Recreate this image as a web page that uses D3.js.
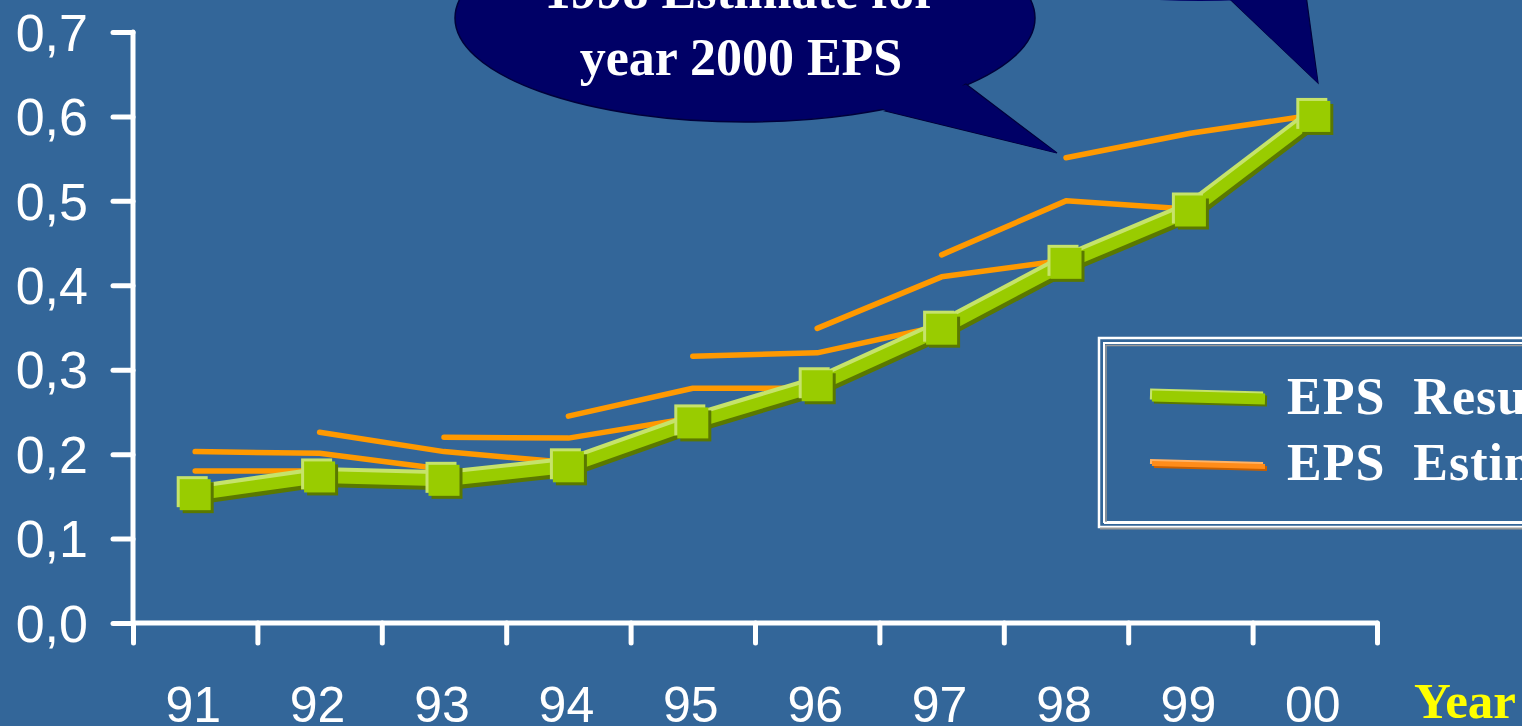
<!DOCTYPE html>
<html>
<head>
<meta charset="utf-8">
<script src="https://cdn.jsdelivr.net/npm/d3@7"></script>
<style>
  html, body { margin: 0; padding: 0; background: #336699; overflow: hidden; }
  svg { display: block; }
</style>
</head>
<body>
<svg id="chart" width="1522" height="726"></svg>
<script>
// Fiscal years on the category axis
const years = ["91", "92", "93", "94", "95", "96", "97", "98", "99", "00"];

// Reported earnings per share
const results = [0.152, 0.173, 0.169, 0.185, 0.237, 0.281, 0.348, 0.426, 0.488, 0.60];

// Successive analyst estimates: first year covered, then the estimated EPS path
const estimateStarts = ["91", "91", "92", "93", "94", "95", "96", "97", "98"];
const estimateValues = [
  [0.180, 0.180],
  [0.203, 0.201, 0.182],
  [0.226, 0.203, 0.190],
  [0.220, 0.219, 0.243],
  [0.245, 0.278, 0.278],
  [0.316, 0.320, 0.352],
  [0.349, 0.410, 0.430],
  [0.436, 0.500, 0.490],
  [0.551, 0.580, 0.602]
];

// Value axis ticks and their labels (decimal comma)
const yTicks = [0, 0.1, 0.2, 0.3, 0.4, 0.5, 0.6, 0.7];
const yTickLabels = ["0,0", "0,1", "0,2", "0,3", "0,4", "0,5", "0,6", "0,7"];

// Legend entries and annotation text
const legendLabels = ["EPS  Results", "EPS  Estimates"];
const calloutLines = ["1998 Estimate for", "year 2000 EPS"];
const xAxisTitle = "Year";

const svg = d3.select("#chart");
const W = 1522, H = 726;

svg.append("rect").attr("width", W).attr("height", H).attr("fill", "#336699");

const plot = { left: 133, right: 1377, top: 32, bottom: 623 };

const x = d3.scaleBand().domain(years).range([plot.left, plot.right]).paddingInner(0).paddingOuter(0);
const y = d3.scaleLinear().domain([0, 0.7]).range([plot.bottom, plot.top]);
const cx = d => x(d) + x.bandwidth() / 2;

const serif = "'Liberation Serif', 'Times New Roman', serif";
const sans = "'Liberation Sans', Arial, sans-serif";

// ---- Speech bubbles ----
const bubbles = svg.append("g");
// second bubble, mostly above the top edge
bubbles.append("ellipse")
  .attr("cx", 1200).attr("cy", -100).attr("rx", 290).attr("ry", 101)
  .attr("fill", "#000066");
bubbles.append("polygon")
  .attr("points", "1215,-20 1232,1 1318,83 1304,-20")
  .attr("fill", "#000066")
  .attr("stroke", "#00003a").attr("stroke-width", 1.2).attr("stroke-linejoin", "miter");
bubbles.append("polygon")
  .attr("points", "1216,-5 1232,1 1318,83 1304,-5")
  .attr("fill", "#000066");

// main bubble with its tail
bubbles.append("ellipse")
  .attr("cx", 745).attr("cy", 18).attr("rx", 290).attr("ry", 104)
  .attr("fill", "#000066")
  .attr("stroke", "#00003a").attr("stroke-width", 1.5);
bubbles.append("polygon")
  .attr("points", "966,84 1057,153 885,111")
  .attr("fill", "#000066")
  .attr("stroke", "#00003a").attr("stroke-width", 1.2);
bubbles.append("polygon")
  .attr("points", "990,60 962,86 1057,153 885,110 860,98 840,70")
  .attr("fill", "#000066");

const callout = bubbles.append("text")
  .attr("font-family", serif).attr("font-weight", "bold")
  .attr("font-size", 52).attr("fill", "#ffffff").attr("text-anchor", "middle");
callout.append("tspan").attr("x", 741).attr("y", 8).text(calloutLines[0]);
callout.append("tspan").attr("x", 741).attr("y", 75).text(calloutLines[1]);

// ---- Axes ----
const axisColor = "#ffffff";

const yAxis = d3.axisLeft(y)
  .tickValues(yTicks)
  .tickFormat((d, i) => yTickLabels[i])
  .tickSize(20)
  .tickPadding(25);
const gy = svg.append("g").attr("transform", `translate(${plot.left},0)`).call(yAxis);
gy.select(".domain").remove();
gy.selectAll(".tick line")
  .attr("stroke", axisColor).attr("stroke-width", 5).attr("stroke-linecap", "round");
gy.selectAll(".tick text")
  .attr("fill", axisColor).attr("font-family", sans).attr("font-size", 52)
  .attr("dy", "0.35em");
svg.append("line")
  .attr("x1", plot.left).attr("x2", plot.left)
  .attr("y1", plot.top).attr("y2", plot.bottom)
  .attr("stroke", axisColor).attr("stroke-width", 5).attr("stroke-linecap", "round");

// category axis: ticks at band boundaries, labels at band centres
const xEdge = d3.scaleLinear().domain([0, years.length]).range([plot.left, plot.right]);
const xAxisTicks = d3.axisBottom(xEdge)
  .tickValues(d3.range(0, years.length + 1))
  .tickFormat("")
  .tickSize(20);
const gx = svg.append("g").attr("transform", `translate(0,${plot.bottom})`).call(xAxisTicks);
gx.select(".domain").remove();
gx.selectAll(".tick line")
  .attr("stroke", axisColor).attr("stroke-width", 5).attr("stroke-linecap", "round");
svg.append("line")
  .attr("x1", plot.left).attr("x2", plot.right)
  .attr("y1", plot.bottom).attr("y2", plot.bottom)
  .attr("stroke", axisColor).attr("stroke-width", 5).attr("stroke-linecap", "round");

svg.append("g").selectAll("text")
  .data(years).join("text")
  .attr("x", d => cx(d) - 2).attr("y", 722)
  .attr("text-anchor", "middle")
  .attr("font-family", sans).attr("font-size", 50).attr("fill", axisColor)
  .text(d => d);

svg.append("text")
  .attr("x", 1414).attr("y", 718)
  .attr("font-family", serif).attr("font-weight", "bold").attr("font-size", 51)
  .attr("fill", "#ffff00")
  .text(xAxisTitle);

// ---- Estimate lines ----
const lineGen = d3.line().x(p => p[0]).y(p => p[1]);
const estGroup = svg.append("g");
estimateValues.forEach((vals, k) => {
  const i0 = years.indexOf(estimateStarts[k]);
  const pts = vals.map((v, j) => [cx(years[i0 + j]), y(v)]);
  estGroup.append("path")
    .attr("d", lineGen(pts))
    .attr("fill", "none")
    .attr("stroke", "#ff9900").attr("stroke-width", 5.5)
    .attr("stroke-linecap", "round").attr("stroke-linejoin", "round");
});

// ---- Results line with bevelled look ----
const resPts = years.map((d, i) => [cx(d), y(results[i])]);
const resGroup = svg.append("g");
const bevel = [
  { dx: -1, dy: -4, color: "#c6e36b" },
  { dx: 2, dy: 4, color: "#5a7800" },
  { dx: 0, dy: 0, color: "#99cc00" }
];
bevel.forEach(b => {
  resGroup.append("path")
    .attr("d", lineGen(resPts))
    .attr("transform", `translate(${b.dx},${b.dy})`)
    .attr("fill", "none").attr("stroke", b.color).attr("stroke-width", 12)
    .attr("stroke-linejoin", "round");
});

const ms = 31;
const markerLayers = [
  { dx: -3, dy: -3, color: "#c6e36b" },
  { dx: 3, dy: 3, color: "#5a7800" },
  { dx: 0, dy: 0, color: "#99cc00" }
];
markerLayers.forEach(m => {
  resGroup.append("g").selectAll("rect")
    .data(resPts).join("rect")
    .attr("x", p => p[0] - ms / 2 + m.dx)
    .attr("y", p => p[1] - ms / 2 + m.dy)
    .attr("width", ms).attr("height", ms)
    .attr("fill", m.color);
});

// ---- Legend ----
const lg = svg.append("g");
lg.append("rect")
  .attr("x", 1099).attr("y", 338).attr("width", 600).attr("height", 189)
  .attr("fill", "#336699").attr("stroke", "#ffffff").attr("stroke-width", 2.5);
lg.append("line")
  .attr("x1", 1100).attr("x2", 1522).attr("y1", 528.5).attr("y2", 528.5)
  .attr("stroke", "#9a9a9a").attr("stroke-width", 2);
lg.append("rect")
  .attr("x", 1104).attr("y", 343).attr("width", 600).attr("height", 179)
  .attr("fill", "none").attr("stroke", "#ffffff").attr("stroke-width", 2);
lg.append("path")
  .attr("d", "M1106,523 V345.5 H1522")
  .attr("fill", "none").attr("stroke", "#9a9a9a").attr("stroke-width", 1.5);
lg.append("line")
  .attr("x1", 1104).attr("x2", 1522).attr("y1", 523).attr("y2", 523)
  .attr("stroke", "#ffffff").attr("stroke-width", 2);

const swatches = [
  { y0: 396, w: 11, layers: ["#c6e36b", "#5a7800", "#99cc00"] },
  { y0: 463.5, w: 5, layers: ["#ffb366", "#c85f00", "#ff8c1a"] }
];
swatches.forEach((s, i) => {
  const offs = [[-2, -2], [2, 2], [0, 0]];
  offs.forEach((o, j) => {
    lg.append("line")
      .attr("x1", 1152 + o[0]).attr("y1", s.y0 + o[1])
      .attr("x2", 1265 + o[0]).attr("y2", s.y0 + 3 + o[1])
      .attr("stroke", s.layers[j]).attr("stroke-width", s.w);
  });
  lg.append("text")
    .attr("x", 1287).attr("y", i === 0 ? 414 : 480)
    .attr("font-family", serif).attr("font-weight", "bold").attr("font-size", 52)
    .attr("letter-spacing", 1)
    .attr("fill", "#ffffff")
    .style("white-space", "pre")
    .text(legendLabels[i]);
});
</script>
</body>
</html>
